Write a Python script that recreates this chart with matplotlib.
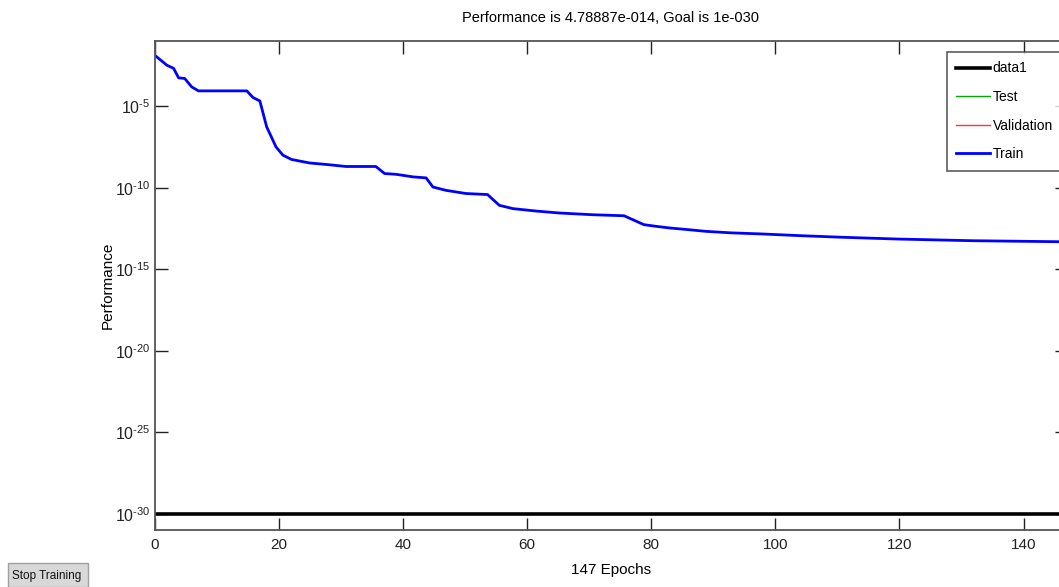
import matplotlib
matplotlib.use("Agg")
import matplotlib.pyplot as plt
from matplotlib.patches import Rectangle
from matplotlib.ticker import NullLocator

plt.rcParams['font.family'] = ['Liberation Sans Narrow', 'Liberation Sans', 'DejaVu Sans']
plt.rcParams['axes.unicode_minus'] = False
plt.rcParams['mathtext.fontset'] = 'custom'
plt.rcParams['mathtext.rm'] = 'Liberation Sans'
plt.rcParams['mathtext.it'] = 'Liberation Sans'

# ---- data ----
train_epochs = [0, 1.9, 3.0, 3.8, 4.8, 5.9, 7.0, 14.8, 15.8, 16.9, 18.0, 19.5, 20.6, 22.0,
                24.9, 27.9, 30.8, 35.6, 37.0, 38.9, 41.6, 43.7, 44.8, 46.9, 50.1, 53.6,
                55.5, 57.7, 61.4, 65.2, 70.5, 75.6, 78.8, 80.7, 82.9, 85.8, 88.8, 92.8,
                97.9, 103.8, 110.8, 119.6, 131.7, 147.0]
train_perf = [1.3e-2, 3.3e-3, 2.1e-3, 5.5e-4, 5.0e-4, 1.55e-4, 8.7e-5, 8.7e-5, 3.4e-5,
              2.1e-5, 5.4e-7, 3.2e-8, 1.0e-8, 5.4e-9, 3.3e-9, 2.6e-9, 2.0e-9, 2.0e-9,
              7.4e-10, 6.6e-10, 4.6e-10, 4.0e-10, 1.1e-10, 6.9e-11, 4.4e-11, 3.8e-11,
              8.3e-12, 5.2e-12, 3.7e-12, 2.8e-12, 2.2e-12, 1.9e-12, 5.4e-13, 4.3e-13,
              3.4e-13, 2.7e-13, 2.1e-13, 1.7e-13, 1.45e-13, 1.15e-13, 9.1e-14, 7.1e-14,
              5.6e-14, 4.79e-14]
goal_epochs = [0, 147]
goal_perf = [1e-30, 1e-30]
title_text = "Performance is 4.78887e-014, Goal is 1e-030"
xlabel_text = "147 Epochs"
ylabel_text = "Performance"
x_ticks = [0, 20, 40, 60, 80, 100, 120, 140]
y_ticks = [1e-30, 1e-25, 1e-20, 1e-15, 1e-10, 1e-5]
y_labels = [r"$10^{\text{-}30}$", r"$10^{\text{-}25}$", r"$10^{\text{-}20}$",
            r"$10^{\text{-}15}$", r"$10^{\text{-}10}$", r"$10^{\text{-}5}$"]
button_text = "Stop Training"

W, H = 1059, 587
fig = plt.figure(figsize=(W / 100, H / 100), dpi=100)
left, right, top, bottom = 155, 1067, 41, 530
ax = fig.add_axes([left / W, 1 - bottom / H, (right - left) / W, (bottom - top) / H])

ax.semilogy(goal_epochs, goal_perf, color='black', lw=2.6, label='data1')
ax.semilogy([], [], color='#00aa00', lw=1.0, label='Test')
ax.semilogy([], [], color='#ff3333', lw=1.0, label='Validation')
ax.semilogy(train_epochs, train_perf, color='#0000ff', lw=2.0, label='Train')

ax.set_xlim(0, 147)
ax.set_ylim(1e-31, 1e-1)
ax.set_xticks(x_ticks)
ax.set_yticks(y_ticks)
ax.set_yticklabels(y_labels)
ax.yaxis.set_minor_locator(NullLocator())
ax.tick_params(direction='in', length=9, width=1, top=True, right=True,
               labelsize=11, colors='#222222')
ax.tick_params(axis='y', pad=3, labelsize=11.5)
ax.tick_params(axis='x', pad=6)
for s in ax.spines.values():
    s.set_color('#555555')
    s.set_linewidth(1.3)

ax.set_title(title_text, fontsize=10.5, pad=14)
ax.set_xlabel(xlabel_text, fontsize=11, labelpad=8)
ax.set_ylabel(ylabel_text, fontsize=11, labelpad=0)

leg = ax.legend(loc='upper left', bbox_to_anchor=(0.868, 0.978), fontsize=10, frameon=True,
                fancybox=False, edgecolor='#333333', handlelength=2.4, borderaxespad=0.0,
                labelspacing=1.05, handletextpad=0.2, borderpad=0.7)
leg.get_frame().set_linewidth(1.2)

# Stop Training button
btn = Rectangle((8 / W, 0), 80 / W, 24 / H, transform=fig.transFigure,
                facecolor='#d8d8d8', edgecolor='#a0a0a0', lw=1.0)
fig.patches.append(btn)
fig.text(47 / W, 11 / H, button_text, ha='center', va='center', fontsize=8.5, color='#111111')

fig.savefig('out.png', dpi=100)
